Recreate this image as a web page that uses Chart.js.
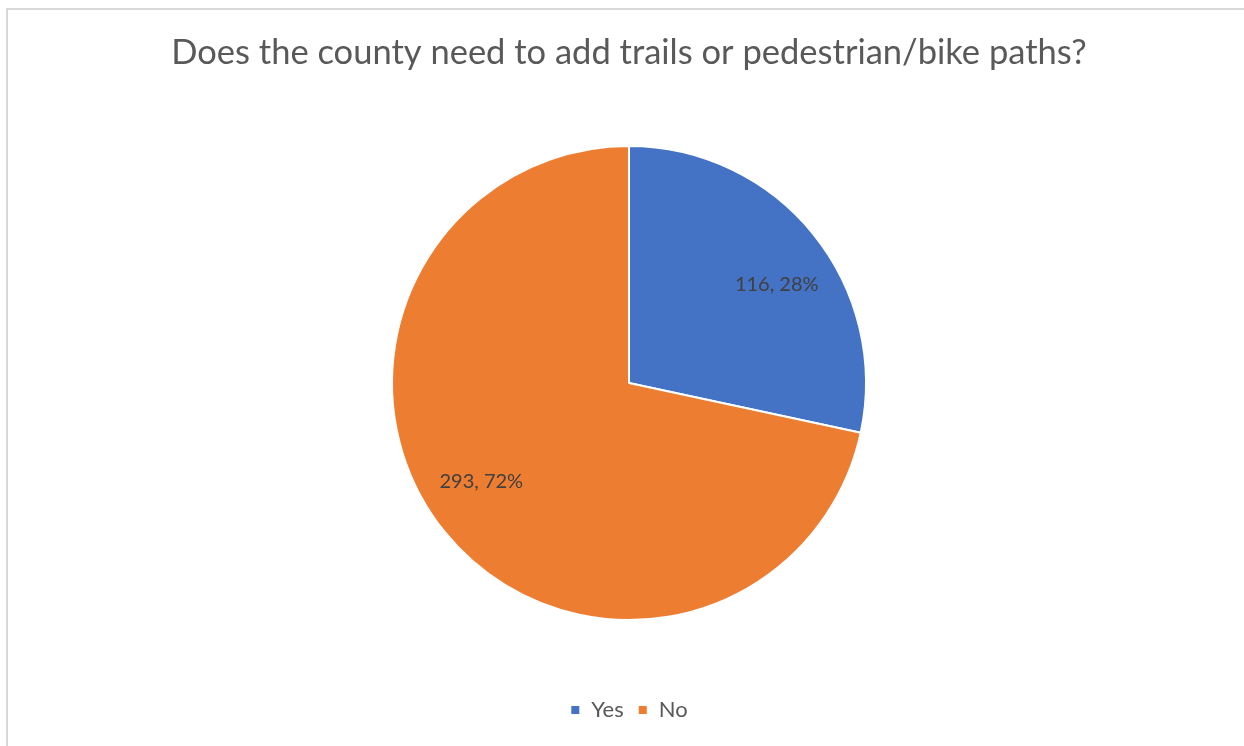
<!DOCTYPE html>
<html>
<head>
<meta charset="utf-8">
<script src="https://cdn.jsdelivr.net/npm/chart.js@4/dist/chart.umd.min.js"></script>
<style>
  html, body { margin: 0; padding: 0; background: #fff; }
  body { width: 1244px; height: 746px; position: relative; overflow: hidden; }
  #frame {
    position: absolute; left: 6px; top: 8px; width: 1260px; height: 760px;
    border-left: 2px solid #d9d9d9; border-top: 2px solid #d9d9d9;
  }
  #wrap { position: absolute; left: 8px; top: 10px; width: 1242px; height: 736px; }
</style>
</head>
<body>
<div id="frame"></div>
<div id="wrap"><canvas id="chart"></canvas></div>
<script>
const chartTitle = 'Does the county need to add trails or pedestrian/bike paths?';
const categories = ['Yes', 'No'];
const responses = [116, 293];
const sliceColors = ['#4472C4', '#ED7D31'];

const fontFamily = 'Lato, "Liberation Sans", sans-serif';

// Chart heading, drawn across the full canvas width
const headline = {
  id: 'headline',
  afterDraw(chart) {
    const { ctx } = chart;
    ctx.save();
    ctx.font = '34.5px ' + fontFamily;
    ctx.fillStyle = '#595959';
    ctx.textAlign = 'center';
    ctx.textBaseline = 'alphabetic';
    ctx.fillText(chartTitle, chart.width / 2, 54);
    ctx.restore();
  }
};

// Writes "count, percent" inside each slice
const sliceLabels = {
  id: 'sliceLabels',
  afterDatasetsDraw(chart) {
    const { ctx } = chart;
    const meta = chart.getDatasetMeta(0);
    const values = chart.data.datasets[0].data;
    const total = values.reduce((a, b) => a + b, 0);
    ctx.save();
    ctx.font = '20px ' + fontFamily;
    ctx.fillStyle = '#404040';
    ctx.textAlign = 'center';
    ctx.textBaseline = 'middle';
    meta.data.forEach((arc, i) => {
      const { x, y, startAngle, endAngle, outerRadius } = arc.getProps(['x', 'y', 'startAngle', 'endAngle', 'outerRadius'], true);
      const mid = (startAngle + endAngle) / 2 + 0.09;
      const r = outerRadius * 0.75;
      const pct = Math.round(values[i] / total * 100);
      ctx.fillText(values[i] + ', ' + pct + '%', x + Math.cos(mid) * r, y + Math.sin(mid) * r);
    });
    ctx.restore();
  }
};

new Chart(document.getElementById('chart'), {
  type: 'pie',
  data: {
    labels: categories,
    datasets: [{
      data: responses,
      backgroundColor: sliceColors,
      borderColor: '#ffffff',
      borderWidth: 2
    }]
  },
  options: {
    responsive: true,
    maintainAspectRatio: false,
    animation: false,
    layout: { padding: { left: 383, right: 383, top: 71, bottom: 15 } },
    plugins: {
      tooltip: { enabled: false },
      title: { display: false },
      legend: {
        position: 'bottom',
        labels: {
          boxWidth: 10,
          boxHeight: 10,
          padding: 14,
          color: '#595959',
          font: { family: fontFamily, size: 22 }
        }
      }
    }
  },
  plugins: [sliceLabels, headline]
});
</script>
</body>
</html>
